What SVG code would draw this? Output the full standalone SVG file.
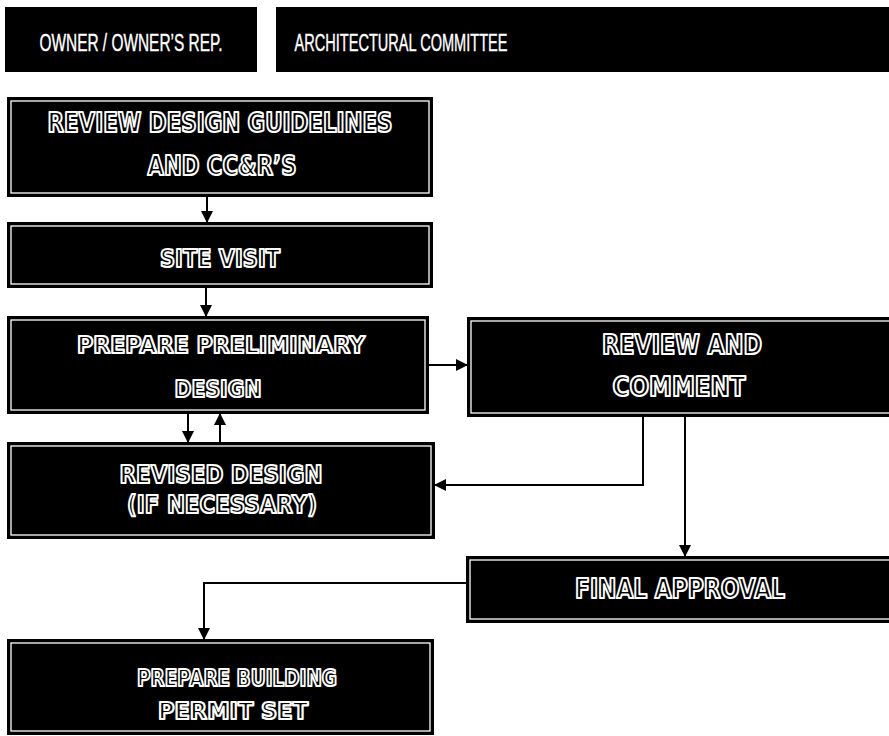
<svg xmlns="http://www.w3.org/2000/svg" width="889" height="736" viewBox="0 0 889 736">
<style>
.hdr{fill:#000}
.hdrt{fill:#fff;stroke:#fff;stroke-width:0.4;font-family:"Liberation Sans",Arial,sans-serif;font-size:23px;text-anchor:middle}
.box{fill:#000;stroke:#000;stroke-width:2}
.inner{fill:none;stroke:#fff;stroke-width:1.3}
.bt{fill:#000;stroke:#fff;stroke-width:2.2;stroke-linejoin:round;font-family:"DejaVu Sans","Liberation Sans",sans-serif;font-weight:bold;text-anchor:middle}
.ln{fill:none;stroke:#000;stroke-width:2}
</style>
<defs>
<marker id="ah" markerWidth="12" markerHeight="12" viewBox="0 0 12 12" refX="12" refY="6" orient="auto" markerUnits="userSpaceOnUse">
<path d="M0,0 L12,6 L0,12 Z" fill="#000"/>
</marker>
</defs>
<rect width="889" height="736" fill="#fff"/>
<g id="hdr-owner">
<rect class="hdr" x="5" y="7" width="252" height="65"/>
<text class="hdrt" x="131" y="51" textLength="183" lengthAdjust="spacingAndGlyphs">OWNER / OWNER’S  REP.</text>
</g>
<g id="hdr-committee">
<rect class="hdr" x="276" y="7" width="613" height="65"/>
<text class="hdrt" x="401" y="51" textLength="213" lengthAdjust="spacingAndGlyphs">ARCHITECTURAL COMMITTEE</text>
</g>
<g id="n-review-guidelines">
<rect class="box" x="8" y="98" width="424" height="98"/>
<rect class="inner" x="11" y="101" width="418" height="92"/>
<text class="bt" x="220" y="132" font-size="26" textLength="345" lengthAdjust="spacingAndGlyphs">REVIEW DESIGN GUIDELINES</text>
<text class="bt" x="222" y="175" font-size="26" textLength="149" lengthAdjust="spacingAndGlyphs">AND CC&amp;R’S</text>
</g>
<g id="n-site-visit">
<rect class="box" x="8" y="223" width="424" height="64"/>
<rect class="inner" x="11" y="226" width="418" height="58"/>
<text class="bt" x="220" y="267" font-size="25" textLength="120" lengthAdjust="spacingAndGlyphs">SITE VISIT</text>
</g>
<g id="n-prelim">
<rect class="box" x="8" y="317" width="420" height="96"/>
<rect class="inner" x="11" y="320" width="414" height="90"/>
<text class="bt" x="221" y="353" font-size="23" textLength="288" lengthAdjust="spacingAndGlyphs">PREPARE PRELIMINARY</text>
<text class="bt" x="218" y="397" font-size="23" textLength="87" lengthAdjust="spacingAndGlyphs">DESIGN</text>
</g>
<g id="n-revised">
<rect class="box" x="8" y="443" width="426" height="95"/>
<rect class="inner" x="11" y="446" width="420" height="89"/>
<text class="bt" x="221" y="483" font-size="25" textLength="203" lengthAdjust="spacingAndGlyphs">REVISED DESIGN</text>
<text class="bt" x="222" y="513" font-size="25" textLength="190" lengthAdjust="spacingAndGlyphs">(IF NECESSARY)</text>
</g>
<g id="n-review-comment">
<rect class="box" x="468" y="318" width="424" height="98"/>
<rect class="inner" x="471" y="321" width="420" height="92"/>
<text class="bt" x="682" y="354" font-size="26" textLength="160" lengthAdjust="spacingAndGlyphs">REVIEW AND</text>
<text class="bt" x="679" y="396" font-size="26" textLength="133" lengthAdjust="spacingAndGlyphs">COMMENT</text>
</g>
<g id="n-final">
<rect class="box" x="467" y="557" width="425" height="65"/>
<rect class="inner" x="470" y="560" width="421" height="59"/>
<text class="bt" x="680" y="598" font-size="26" textLength="210" lengthAdjust="spacingAndGlyphs">FINAL APPROVAL</text>
</g>
<g id="n-building">
<rect class="box" x="8" y="640" width="425" height="94"/>
<rect class="inner" x="11" y="643" width="419" height="88"/>
<text class="bt" x="237" y="686" font-size="23" textLength="200" lengthAdjust="spacingAndGlyphs">PREPARE BUILDING</text>
<text class="bt" x="233" y="719" font-size="23" textLength="150" lengthAdjust="spacingAndGlyphs">PERMIT SET</text>
</g>
<g id="connectors">
<path class="ln" d="M207,196 V223" marker-end="url(#ah)"/>
<path class="ln" d="M206,287 V317" marker-end="url(#ah)"/>
<path class="ln" d="M428,365 H468" marker-end="url(#ah)"/>
<path class="ln" d="M188,413 V443" marker-end="url(#ah)"/>
<path class="ln" d="M220,443 V413" marker-end="url(#ah)"/>
<path class="ln" d="M643,416 V485 H434" marker-end="url(#ah)"/>
<path class="ln" d="M685,416 V557" marker-end="url(#ah)"/>
<path class="ln" d="M467,583 H204 V640" marker-end="url(#ah)"/>
</g>
</svg>
